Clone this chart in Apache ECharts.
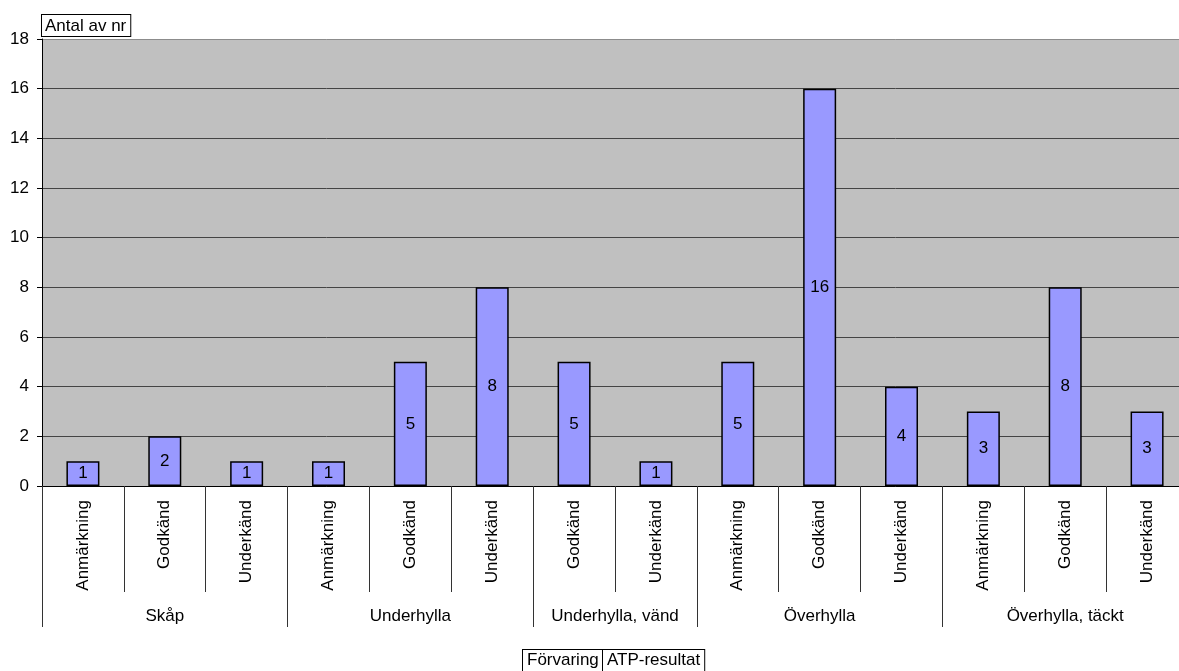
<!DOCTYPE html>
<html>
<head>
<meta charset="utf-8">
<script src="https://cdn.jsdelivr.net/npm/echarts@6/dist/echarts.min.js"></script>
<style>
  html, body { margin: 0; padding: 0; background: #fff; }
  #main { width: 1179px; height: 671px; }
</style>
</head>
<body>
<div id="main"></div>
<script>
// data
var groups = ['Skåp', 'Underhylla', 'Underhylla, vänd', 'Överhylla', 'Överhylla, täckt'];
var groupSizes = [3, 3, 2, 3, 3];
var categories = ['Anmärkning', 'Godkänd', 'Underkänd',
  'Anmärkning', 'Godkänd', 'Underkänd',
  'Godkänd', 'Underkänd',
  'Anmärkning', 'Godkänd', 'Underkänd',
  'Anmärkning', 'Godkänd', 'Underkänd'];
var values = [1, 2, 1, 1, 5, 8, 5, 1, 5, 16, 4, 3, 8, 3];
var yTicks = [0, 2, 4, 6, 8, 10, 12, 14, 16, 18];

(function () {
  var myChart = echarts.init(document.getElementById('main'));
  var font = 'Liberation Sans, Arial, sans-serif';

  // group boundaries and centers on a 0..n value scale
  var bounds = [0], centers = [];
  var acc = 0;
  groupSizes.forEach(function (s) {
    centers.push(acc + s / 2);
    acc += s;
    bounds.push(acc);
  });

  // gridline colours: top border a lighter grey
  var gridColors = yTicks.map(function (t, i) {
    return i === yTicks.length - 1 ? '#8c8c8c' : '#444';
  });

  var option = {
    animation: false,
    textStyle: { fontFamily: font },
    grid: {
      left: 42, top: 39, width: 1146, height: 447,
      outerBoundsMode: 'none', containLabel: false,
      backgroundColor: '#c0c0c0', show: true, borderWidth: 0
    },
    xAxis: [{
      type: 'category',
      data: categories,
      axisLine: { lineStyle: { color: '#000', width: 1 } },
      axisTick: { show: true, interval: 0, length: 106, lineStyle: { color: '#333' } },
      axisLabel: { interval: 0, rotate: 90, margin: 14, fontSize: 17, color: '#000', fontFamily: font },
      splitLine: { show: false }
    }, {
      type: 'value',
      position: 'bottom',
      min: 0,
      max: categories.length,
      axisLine: { show: false },
      axisTick: { show: true, length: 141, customValues: bounds, lineStyle: { color: '#333' } },
      axisLabel: {
        show: true, margin: 122, fontSize: 17, color: '#000', fontFamily: font,
        customValues: centers,
        formatter: function (v) {
          var i = centers.indexOf(v);
          return i >= 0 ? groups[i] : '';
        }
      },
      splitLine: { show: false }
    }],
    yAxis: {
      type: 'value',
      min: yTicks[0],
      max: yTicks[yTicks.length - 1],
      interval: 2,
      name: 'Antal av nr',
      nameLocation: 'end',
      nameGap: 3,
      nameTextStyle: {
        align: 'left', verticalAlign: 'bottom', fontSize: 17, color: '#000', fontFamily: font,
        backgroundColor: '#fff', borderColor: '#000', borderWidth: 1, padding: [3, 4, 1, 3]
      },
      axisLine: { show: true, lineStyle: { color: '#000' } },
      axisTick: { show: true, length: 5, lineStyle: { color: '#000' } },
      axisLabel: { margin: 13, fontSize: 17, color: '#000', fontFamily: font },
      splitLine: { lineStyle: { color: gridColors, width: 1 } }
    },
    series: [{
      type: 'bar',
      data: values,
      barWidth: 33,
      itemStyle: { color: '#9999ff', borderColor: '#000', borderWidth: 1.5 },
      label: { show: true, position: 'inside', fontSize: 17, color: '#000', fontFamily: font }
    }],
    graphic: [{
      type: 'text', left: 522, top: 649,
      style: {
        text: 'Förvaring', font: '17px ' + font, fill: '#000',
        backgroundColor: '#fff', borderColor: '#000', borderWidth: 1, padding: [2, 4, 2, 4]
      }
    }, {
      type: 'text', left: 602, top: 649,
      style: {
        text: 'ATP-resultat', font: '17px ' + font, fill: '#000',
        backgroundColor: '#fff', borderColor: '#000', borderWidth: 1, padding: [2, 4, 2, 4]
      }
    }]
  };

  myChart.setOption(option);
  window.addEventListener('resize', function () {
    myChart.resize();
  });
})();
</script>
</body>
</html>
